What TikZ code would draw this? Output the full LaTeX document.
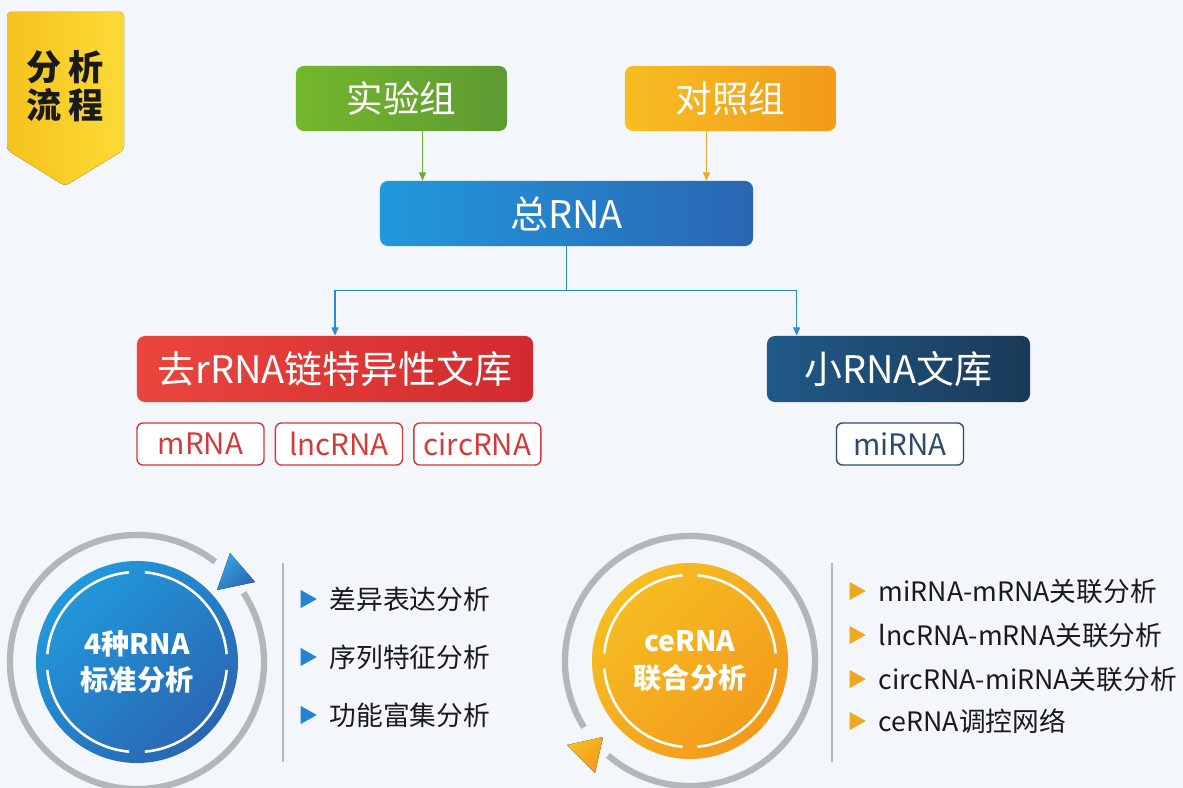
\documentclass[tikz,border=0pt]{standalone}
\usepackage{fontspec}
\setmainfont{Noto Sans CJK SC}
\usetikzlibrary{shapes.geometric,arrows.meta,positioning,calc}

\definecolor{bgcol}{HTML}{F3F6FA}
\definecolor{greenL}{HTML}{74B72D}
\definecolor{greenR}{HTML}{5E9A32}
\definecolor{orangeL}{HTML}{F6BE22}
\definecolor{orangeR}{HTML}{F39A1C}
\definecolor{blueL}{HTML}{2199DC}
\definecolor{blueR}{HTML}{2A66B2}
\definecolor{redL}{HTML}{EA463D}
\definecolor{redR}{HTML}{D22A2F}
\definecolor{navyL}{HTML}{1F5A88}
\definecolor{navyR}{HTML}{1B3958}
\definecolor{tagred}{HTML}{D6393A}
\definecolor{tagnavy}{HTML}{2A4C6E}
\definecolor{ringgrey}{HTML}{B3B7BC}
\definecolor{bulletblue}{HTML}{2284D2}
\definecolor{bulletorange}{HTML}{F2A81E}
\definecolor{textdark}{HTML}{1A1A1A}
\definecolor{yellowL}{HTML}{F5C21E}
\definecolor{yellowR}{HTML}{FCDB36}
\definecolor{linkgreen}{HTML}{6AAC38}
\definecolor{linkorange}{HTML}{F0A92A}
\definecolor{linkblue}{HTML}{2B8AD0}

\begin{document}
\begin{tikzpicture}[x=0.025cm, y=-0.025cm,
    % Styles for the sample boxes and libraries
    groupbox/.style={rounded corners=2mm, minimum width=5.275cm, minimum height=1.625cm, inner sep=0pt, text=white, font=\fontsize{26}{30}\selectfont},
    rnabox/.style={rounded corners=2mm, minimum width=9.325cm, minimum height=1.625cm, inner sep=0pt, text=white, font=\fontsize{27}{30}\selectfont, left color=blueL, right color=blueR},
    libbox/.style={rounded corners=2mm, minimum height=1.65cm, inner sep=0pt, text=white, font=\fontsize{27}{30}\selectfont},
    tag/.style={draw, line width=1pt, fill=white, rounded corners=1.5mm, minimum width=3.175cm, minimum height=1.05cm, inner sep=0pt, font=\fontsize{21}{24}\selectfont},
    % Styles for the two analysis discs
    disc/.style={circle, minimum size=#1, inner sep=0pt, align=center, text=white, font=\bfseries\fontsize{20}{26}\selectfont},
    ring/.style={draw=ringgrey, line width=4.5pt},
    innerarc/.style={draw=white, line width=1.8pt},
    divider/.style={draw=ringgrey, line width=2pt},
    bulletmark/.style={isosceles triangle, isosceles triangle stretches, shape border rotate=0, minimum width=0.45cm, minimum height=0.4cm, inner sep=0pt},
    itemtext/.style={inner sep=0pt, anchor=west, text=textdark, font=\fontsize{19}{22}\selectfont},
    % Connector styles
    link/.style={line width=1pt, -{Triangle[length=6pt, width=5pt]}},
]

% Background, which also fixes the page size
\useasboundingbox (0,0) rectangle (1183,788);
\fill[bgcol] (0,0) rectangle (1183,788);

% Banner in the corner
\fill[left color=yellowL, right color=yellowR, rounded corners=1mm] (7,12) -- (124,12) -- (124,150) -- (65,186) -- (7,150) -- cycle;
\node[align=center, text=textdark, font=\bfseries\fontsize{25}{27}\selectfont, inner sep=0pt] (flowtitle) at (65,86) {分\hspace{.18em}析\\流\hspace{.18em}程};

% Sample groups and total RNA
\node[groupbox, left color=greenL, right color=greenR] (exp) at (401.5,98.5) {实验组};
\node[groupbox, left color=orangeL, right color=orangeR] (ctrl) at (730.5,98.5) {对照组};
\node[rnabox] (total) at (566.5,213.5) {总RNA};

% Group connections
\coordinate (expout) at ($(exp.south)+(21,0)$);
\coordinate (ctrlout) at ($(ctrl.south)+(-24,0)$);
\draw[link, draw=linkgreen] (expout) -- (expout |- total.north);
\draw[link, draw=linkorange] (ctrlout) -- (ctrlout |- total.north);

% Libraries
\node[libbox, minimum width=9.9cm, left color=redL, right color=redR] (rlib) at (335,369) {去rRNA链特异性文库};
\node[libbox, minimum width=6.575cm, left color=navyL, right color=navyR] (slib) at (898.5,369) {小RNA文库};

% Split from total RNA into the two libraries
\coordinate (split) at ($(total.south)+(0,44)$);
\draw[line width=1pt, linkblue] (total.south) -- (split);
\draw[link, draw=linkblue] (split) -| (rlib.north);
\draw[link, draw=linkblue] (split) -| ($(slib.north west)+(30,0)$);

% RNA types under each library
\node[tag, draw=tagred, text=tagred] (mrna) at (200.5,444) {mRNA};
\node[tag, draw=tagred, text=tagred, right=0.25cm of mrna] (lncrna) {lncRNA};
\node[tag, draw=tagred, text=tagred, right=0.25cm of lncrna] (circrna) {circRNA};
\node[tag, draw=tagnavy, text=tagnavy] (mirna) at (900,444) {miRNA};

% Standard analysis disc
\draw[ring] ($(137,662)+(52:3.175cm)$) arc[start angle=52, end angle=393, radius=3.175cm];
\fill[top color=blueL!90!white, bottom color=blueR, shading angle=45] (230,553) -- (255,582) -- (217,590) -- cycle;
\node[disc=5.05cm, top color=blueL, bottom color=blueR, shading angle=45] (std) at (137,662) {4种RNA\\标准分析};
\draw[innerarc] ($(std.center)+(5:2.25cm)$) arc[start angle=5, end angle=85, radius=2.25cm]
    ($(std.center)+(95:2.25cm)$) arc[start angle=95, end angle=175, radius=2.25cm]
    ($(std.center)+(185:2.25cm)$) arc[start angle=185, end angle=265, radius=2.25cm]
    ($(std.center)+(275:2.25cm)$) arc[start angle=275, end angle=355, radius=2.25cm];
\draw[divider] (283,563) -- (283,762);

% Standard analysis items
\node[bulletmark, fill=bulletblue] (sa) at (306,599) {};
\node[itemtext, right=0.3cm of sa] (sat) {差异表达分析};
\node[bulletmark, fill=bulletblue] (sb) at (306,657) {};
\node[itemtext, right=0.3cm of sb] (sbt) {序列特征分析};
\node[bulletmark, fill=bulletblue] (sc) at (306,715) {};
\node[itemtext, right=0.3cm of sc] (sct) {功能富集分析};

% ceRNA disc
\draw[ring] ($(690,661)+(229:3.125cm)$) arc[start angle=229, end angle=572, radius=3.125cm];
\fill[top color=orangeL, bottom color=orangeR, shading angle=45] (567,745) -- (603,737) -- (595,773) -- cycle;
\node[disc=4.9cm, top color=orangeL, bottom color=orangeR, shading angle=45] (cerna) at (690,661) {ceRNA\\联合分析};
\draw[innerarc] ($(cerna.center)+(5:2.15cm)$) arc[start angle=5, end angle=85, radius=2.15cm]
    ($(cerna.center)+(95:2.15cm)$) arc[start angle=95, end angle=175, radius=2.15cm]
    ($(cerna.center)+(185:2.15cm)$) arc[start angle=185, end angle=265, radius=2.15cm]
    ($(cerna.center)+(275:2.15cm)$) arc[start angle=275, end angle=355, radius=2.15cm];
\draw[divider] (832,563) -- (832,762);

% ceRNA analysis items
\node[bulletmark, fill=bulletorange] (ca) at (855,591) {};
\node[itemtext, right=0.3cm of ca] (cat) {miRNA-mRNA关联分析};
\node[bulletmark, fill=bulletorange] (cb) at (855,635) {};
\node[itemtext, right=0.3cm of cb] (cbt) {lncRNA-mRNA关联分析};
\node[bulletmark, fill=bulletorange] (cc) at (855,679) {};
\node[itemtext, right=0.3cm of cc] (cct) {circRNA-miRNA关联分析};
\node[bulletmark, fill=bulletorange] (cd) at (855,721) {};
\node[itemtext, right=0.3cm of cd] (cdt) {ceRNA调控网络};

\end{tikzpicture}
\end{document}
